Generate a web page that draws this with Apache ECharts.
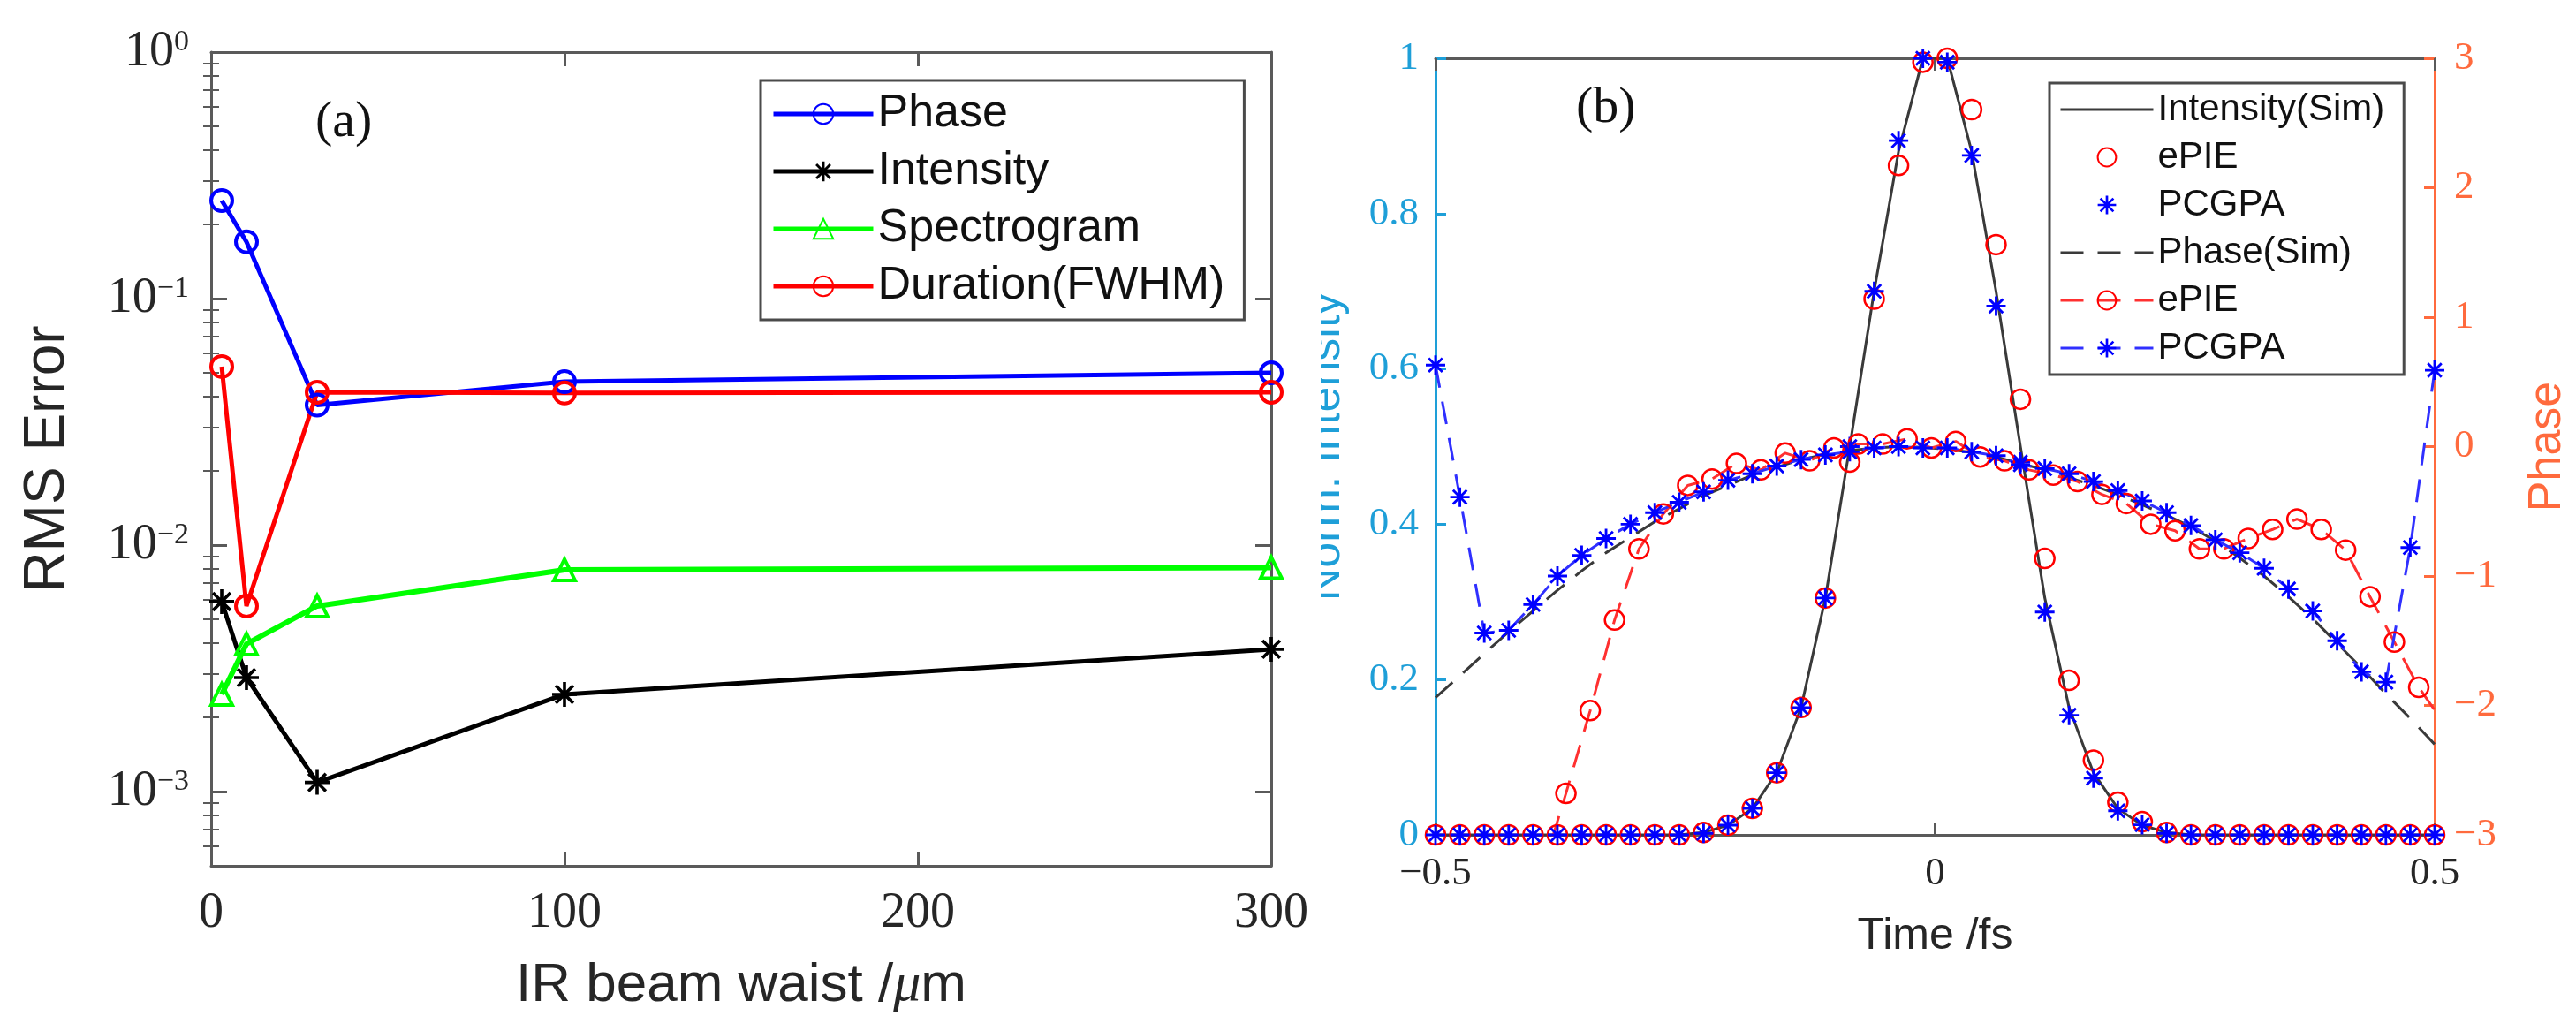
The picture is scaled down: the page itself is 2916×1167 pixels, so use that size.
<!DOCTYPE html>
<html><head><meta charset="utf-8">
<script src="https://cdn.jsdelivr.net/npm/echarts@6/dist/echarts.min.js"></script>
<style>html,body{margin:0;padding:0;background:#fff;}#c{width:2916px;height:1167px;}</style>
</head><body><div id="c"></div>
<script>
// ---------- Panel (a): RMS error vs IR beam waist ----------
const waist = [3, 10, 30, 100, 300];
const errPhase = [0.25, 0.17, 0.037, 0.046, 0.050];
const errIntensity = [0.0059, 0.0029, 0.00109, 0.00248, 0.00378];
const errSpectrogram = [0.00248, 0.00397, 0.00566, 0.00794, 0.0081];
const errDuration = [0.053, 0.00566, 0.0417, 0.0414, 0.0417];

// ---------- Panel (b): retrieved pulse ----------
const time = [-0.5, -0.4756, -0.4512, -0.4268, -0.4024, -0.3780, -0.3537, -0.3293, -0.3049, -0.2805,
  -0.2561, -0.2317, -0.2073, -0.1829, -0.1585, -0.1341, -0.1098, -0.0854, -0.0610, -0.0366,
  -0.0122, 0.0122, 0.0366, 0.0610, 0.0854, 0.1098, 0.1341, 0.1585, 0.1829, 0.2073,
  0.2317, 0.2561, 0.2805, 0.3049, 0.3293, 0.3537, 0.3780, 0.4024, 0.4268, 0.4512,
  0.4756, 0.5];
const intSim = [0,0,0,0,0,0,0,0,0,0,0,
  0.003, 0.0125, 0.034, 0.08, 0.164, 0.305, 0.50, 0.70, 0.88, 1.0,
  1.0, 0.88, 0.70, 0.50, 0.305, 0.164, 0.08, 0.034, 0.0125, 0.003,
  0,0,0,0,0,0,0,0,0,0,0];
const intEPIE = [0,0,0,0,0,0,0,0,0,0,0,
  0.003, 0.0125, 0.034, 0.08, 0.164, 0.305, 0.48, 0.69, 0.862, 0.995,
  1.0, 0.934, 0.76, 0.561, 0.356, 0.199, 0.096, 0.042, 0.017, 0.003,
  0,0,0,0,0,0,0,0,0,0,0];
const intPCGPA = [0,0,0,0,0,0,0,0,0,0,0,
  0.002, 0.0125, 0.034, 0.08, 0.164, 0.305, 0.50, 0.70, 0.894, 1.0,
  0.995, 0.875, 0.681, 0.48, 0.287, 0.154, 0.073, 0.031, 0.013, 0.002,
  0,0,0,0,0,0,0,0,0,0,0];
const phaseSim = [-1.94, -1.77, -1.60, -1.43, -1.27, -1.11, -0.96, -0.82, -0.70, -0.58,
  -0.48, -0.38, -0.30, -0.22, -0.16, -0.10, -0.06, -0.03, -0.01, 0.0,
  -0.005, -0.02, -0.045, -0.08, -0.13, -0.18, -0.24, -0.30, -0.37, -0.45,
  -0.53, -0.62, -0.73, -0.86, -1.00, -1.16, -1.33, -1.52, -1.71, -1.91,
  -2.10, -2.30];
const phasePCGPA = [0.63, -0.39, -1.44, -1.42, -1.22, -1.00, -0.84, -0.71, -0.60, -0.51,
  -0.43, -0.35, -0.26, -0.21, -0.15, -0.10, -0.064, -0.04, -0.01, 0.0,
  -0.01, -0.01, -0.04, -0.07, -0.14, -0.17, -0.21, -0.27, -0.34, -0.42,
  -0.51, -0.61, -0.72, -0.82, -0.94, -1.10, -1.27, -1.50, -1.74, -1.82,
  -0.78, 0.59];
const phaseEPIETime = [-0.3939, -0.3695, -0.3452, -0.3208, -0.2964, -0.2720, -0.2476, -0.2232, -0.1988, -0.1744,
  -0.1500, -0.1256, -0.1013, -0.0769, -0.0525, -0.0281, -0.0037, 0.0207, 0.0451, 0.0695,
  0.0939, 0.1183, 0.1426, 0.1670, 0.1914, 0.2158, 0.2402, 0.2646, 0.2890, 0.3134,
  0.3378, 0.3622, 0.3865, 0.4109, 0.4353, 0.4597, 0.4841, 0.5085];
const phaseEPIE = [-3.3, -2.68, -2.04, -1.34, -0.79, -0.52, -0.30, -0.25, -0.13, -0.18,
  -0.05, -0.11, -0.01, 0.02, 0.02, 0.06, -0.01, 0.04, -0.08, -0.11,
  -0.18, -0.22, -0.27, -0.37, -0.44, -0.60, -0.65, -0.79, -0.79, -0.71,
  -0.64, -0.56, -0.64, -0.80, -1.16, -1.51, -1.86, -2.13];

const pairs = (xs, ys) => xs.map((x, i) => [x, ys[i]]);

// ---------- styles ----------
const AX = '#5a5a5a', TXT = '#262626', CYAN = '#1E9FD8', ORANGE = '#FF6A3D';
const SERIF = 'Liberation Serif', SANS = 'Liberation Sans';

function starPath() {
  const w = 0.13, parts = [];
  for (const deg of [0, 45, 90, 135]) {
    const a = deg * Math.PI / 180, c = Math.cos(a), s = Math.sin(a);
    const pts = [[-w, -1], [w, -1], [w, 1], [-w, 1]].map(([x, y]) => [(x * c - y * s) * 50 + 50, (x * s + y * c) * 50 + 50]);
    parts.push('M' + pts.map(p => p[0].toFixed(2) + ' ' + p[1].toFixed(2)).join(' L') + ' Z');
  }
  return 'path://' + parts.join(' ');
}
const STAR = starPath();

const minus = v => (v < 0 ? '\u2212' + Math.abs(v) : String(v));
const logLabel = v => { const e = Math.round(Math.log10(v)); return '{b|10}{s|' + (e < 0 ? '\u2212' + (-e) : e) + '}'; };

// minor tick positions (log-space, for a hidden helper axis)
const logMin = Math.log10(0.0005);
const minorTicks = [];
for (let e = -4; e < 0; e++) for (let m = 2; m <= 9; m++) { const l = Math.log10(m * Math.pow(10, e)); if (l > logMin) minorTicks.push(l); }

const line = (w, c) => ({ show: true, onZero: false, lineStyle: { color: c, width: w } });
const ticks = (len, c) => ({ show: true, inside: true, length: len, lineStyle: { color: c, width: 3 } });

const chart = echarts.init(document.getElementById('c'));
chart.setOption({
  animation: false,
  backgroundColor: '#fff',
  grid: [
    { left: 239, top: 59, width: 1200, height: 921 },
    { left: 1625, top: 66, width: 1131, height: 879 }
  ],
  xAxis: [
    { gridIndex: 0, type: 'value', min: 0, max: 300, interval: 100, position: 'bottom',
      axisLine: line(3, AX), axisTick: ticks(16, AX), splitLine: { show: false },
      axisLabel: { margin: 26, fontFamily: SERIF, fontSize: 56, color: TXT },
      name: 'IR beam waist /{mu|\u03bc}m', nameLocation: 'middle', nameGap: 105,
      nameTextStyle: { fontFamily: SANS, fontSize: 62, color: TXT,
        rich: { mu: { fontFamily: SERIF, fontStyle: 'italic', fontSize: 62, color: TXT } } } },
    { gridIndex: 0, type: 'value', min: 0, max: 300, interval: 100, position: 'top',
      axisLine: line(3, AX), axisTick: ticks(16, AX), axisLabel: { show: false }, splitLine: { show: false } },
    { gridIndex: 1, type: 'value', min: -0.5, max: 0.5, interval: 0.5, position: 'bottom',
      axisLine: line(3, AX), axisTick: ticks(14, AX), splitLine: { show: false },
      axisLabel: { margin: 22, fontFamily: SERIF, fontSize: 45, color: TXT, formatter: minus },
      name: 'Time /fs', nameLocation: 'middle', nameGap: 90,
      nameTextStyle: { fontFamily: SANS, fontSize: 50, color: TXT } },
    { gridIndex: 1, type: 'value', min: -0.5, max: 0.5, interval: 0.5, position: 'top',
      axisLine: line(3, AX), axisTick: ticks(14, AX), axisLabel: { show: false }, splitLine: { show: false } }
  ],
  yAxis: [
    { gridIndex: 0, type: 'log', logBase: 10, min: 0.0005, max: 1, position: 'left',
      axisLine: line(3, AX), axisTick: ticks(18, AX), splitLine: { show: false },
      axisLabel: { formatter: logLabel, showMinLabel: false, margin: 25,
        rich: { b: { fontFamily: SERIF, fontSize: 56, color: TXT },
                s: { fontFamily: SERIF, fontSize: 34, color: TXT, verticalAlign: 'top', padding: [0, 0, 18, 0] } } },
      name: 'RMS Error', nameLocation: 'middle', nameGap: 153,
      nameTextStyle: { fontFamily: SANS, fontSize: 64, color: TXT } },
    { gridIndex: 0, type: 'log', logBase: 10, min: 0.0005, max: 1, position: 'right',
      axisLine: line(3, AX), axisTick: ticks(18, AX), axisLabel: { show: false }, splitLine: { show: false } },
    { gridIndex: 0, type: 'value', min: logMin, max: 0, position: 'left',
      axisLine: { show: false }, axisLabel: { show: false }, splitLine: { show: false },
      axisTick: { show: true, inside: true, length: 9, customValues: minorTicks, lineStyle: { color: AX, width: 2 } } },
    { gridIndex: 0, type: 'value', min: logMin, max: 0, position: 'right',
      axisLine: { show: false }, axisLabel: { show: false }, splitLine: { show: false },
      axisTick: { show: true, inside: true, length: 9, customValues: minorTicks, lineStyle: { color: AX, width: 2 } } },
    { gridIndex: 1, type: 'value', min: 0, max: 1, interval: 0.2, position: 'left',
      axisLine: line(3, CYAN), axisTick: ticks(12, CYAN), splitLine: { show: false },
      axisLabel: { margin: 19, fontFamily: SERIF, fontSize: 45, color: CYAN },
      name: 'Norm. Intensity', nameLocation: 'middle', nameGap: 97,
      nameTextStyle: { fontFamily: SANS, fontSize: 52, color: CYAN } },
    { gridIndex: 1, type: 'value', min: -3, max: 3, interval: 1, position: 'right',
      axisLine: line(3, ORANGE), axisTick: ticks(12, ORANGE), splitLine: { show: false },
      axisLabel: { margin: 22, fontFamily: SERIF, fontSize: 45, color: ORANGE, formatter: minus },
      name: 'Phase', nameLocation: 'middle', nameGap: 102,
      nameTextStyle: { fontFamily: SANS, fontSize: 52, color: ORANGE } }
  ],
  legend: [
    { left: 861, top: 91, orient: 'vertical', selectedMode: false,
      data: ['Phase', 'Intensity', 'Spectrogram', 'Duration(FWHM)'],
      itemWidth: 113, itemHeight: 28, itemGap: 13, padding: [12, 22, 12, 12],
      borderColor: '#4a4a4a', borderWidth: 3, backgroundColor: '#fff',
      lineStyle: { width: 5 },
      textStyle: { fontFamily: SANS, fontSize: 52, color: '#111' } },
    { left: 2320, top: 94, orient: 'vertical', selectedMode: false,
      data: ['Intensity(Sim)', 'ePIE', 'PCGPA', 'Phase(Sim)', 'ePIE\u200b', 'PCGPA\u200b'],
      itemWidth: 105, itemHeight: 26, itemGap: 12, padding: [9, 22, 9, 11],
      borderColor: '#4a4a4a', borderWidth: 3, backgroundColor: '#fff',
      lineStyle: { width: 3 },
      formatter: n => n.replace(/\u200b/g, ''),
      textStyle: { fontFamily: SANS, fontSize: 42, color: '#111' } }
  ],
  graphic: [
    { type: 'text', left: 397 - 40, top: 142 - 32, z: 50,
      style: { text: '(a)', font: '58px "Liberation Serif"', fill: '#111' } },
    { type: 'text', left: 1824 - 40, top: 126 - 32, z: 50,
      style: { text: '(b)', font: '58px "Liberation Serif"', fill: '#111' } },
    { type: 'rect', shape: { x: 1462, y: 250, width: 33, height: 520 }, z: 100,
      style: { fill: '#fff' } }
  ],
  series: [
    { name: 'Phase', type: 'line', xAxisIndex: 0, yAxisIndex: 0, data: pairs(waist, errPhase),
      symbol: 'circle', symbolSize: 24, lineStyle: { color: '#0000FF', width: 5 },
      itemStyle: { color: 'rgba(0,0,0,0)', borderColor: '#0000FF', borderWidth: 4 } },
    { name: 'Intensity', type: 'line', xAxisIndex: 0, yAxisIndex: 0, data: pairs(waist, errIntensity),
      symbol: STAR, symbolSize: 28, symbolKeepAspect: true, lineStyle: { color: '#000', width: 5 },
      itemStyle: { color: '#000' } },
    { name: 'Spectrogram', type: 'line', xAxisIndex: 0, yAxisIndex: 0, data: pairs(waist, errSpectrogram),
      symbol: 'triangle', symbolSize: 24, lineStyle: { color: '#00FF00', width: 6 },
      itemStyle: { color: 'rgba(0,0,0,0)', borderColor: '#00FF00', borderWidth: 4 } },
    { name: 'Duration(FWHM)', type: 'line', xAxisIndex: 0, yAxisIndex: 0, data: pairs(waist, errDuration),
      symbol: 'circle', symbolSize: 24, lineStyle: { color: '#FF0000', width: 5 },
      itemStyle: { color: 'rgba(0,0,0,0)', borderColor: '#FF0000', borderWidth: 4 } },

    { name: 'Intensity(Sim)', type: 'line', xAxisIndex: 2, yAxisIndex: 4, data: pairs(time, intSim),
      symbol: 'none', lineStyle: { color: '#3a3a3a', width: 3 }, itemStyle: { color: '#3a3a3a', opacity: 0 } },
    { name: 'ePIE', type: 'line', xAxisIndex: 2, yAxisIndex: 4, data: pairs(time, intEPIE),
      showAllSymbol: true, symbol: 'circle', symbolSize: 22, lineStyle: { width: 0, opacity: 0, color: '#FF0000' },
      itemStyle: { color: 'rgba(0,0,0,0)', borderColor: '#FF0000', borderWidth: 2.5 } },
    { name: 'PCGPA', type: 'line', xAxisIndex: 2, yAxisIndex: 4, data: pairs(time, intPCGPA),
      showAllSymbol: true, symbol: STAR, symbolSize: 22, symbolKeepAspect: true,
      lineStyle: { width: 0, opacity: 0, color: '#0000FF' }, itemStyle: { color: '#0000FF' } },
    { name: 'Phase(Sim)', type: 'line', xAxisIndex: 2, yAxisIndex: 5, data: pairs(time, phaseSim),
      symbol: 'none', lineStyle: { color: '#3a3a3a', width: 3, type: [26, 16] }, itemStyle: { color: '#3a3a3a', opacity: 0 } },
    { name: 'ePIE\u200b', type: 'line', xAxisIndex: 2, yAxisIndex: 5, data: pairs(phaseEPIETime, phaseEPIE),
      showAllSymbol: true, symbol: 'circle', symbolSize: 22,
      lineStyle: { color: '#FF3030', width: 3, type: [26, 16] },
      itemStyle: { color: 'rgba(0,0,0,0)', borderColor: '#FF0000', borderWidth: 2.5 } },
    { name: 'PCGPA\u200b', type: 'line', xAxisIndex: 2, yAxisIndex: 5, data: pairs(time, phasePCGPA),
      showAllSymbol: true, symbol: STAR, symbolSize: 22, symbolKeepAspect: true,
      lineStyle: { color: '#3030FF', width: 3, type: [26, 16] }, itemStyle: { color: '#0000FF' } }
  ]
});
</script></body></html>
